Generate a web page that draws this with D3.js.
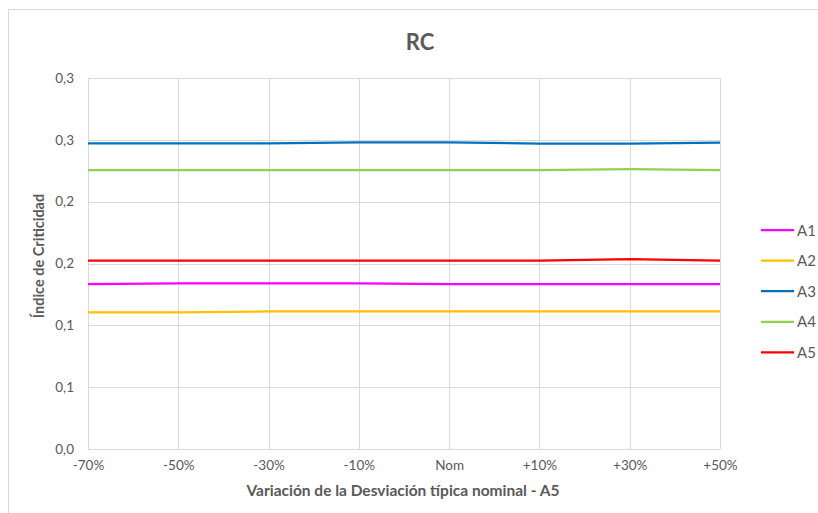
<!DOCTYPE html>
<html>
<head>
<meta charset="utf-8">
<script src="https://cdn.jsdelivr.net/npm/d3@7/dist/d3.min.js"></script>
<style>
  html, body { margin: 0; padding: 0; background: #fff; }
  svg { display: block; }
  text { font-family: Lato, "Open Sans", sans-serif; }
</style>
</head>
<body>
<svg id="chart" width="818" height="513"></svg>
<script>
// Categories on the x axis
const categories = ["-70%", "-50%", "-30%", "-10%", "Nom", "+10%", "+30%", "+50%"];

// Series values (Índice de Criticidad)
const seriesNames = ["A1", "A2", "A3", "A4", "A5"];
const A1 = [0.1333, 0.1340, 0.1340, 0.1340, 0.1334, 0.1333, 0.1333, 0.1333];
const A2 = [0.1104, 0.1104, 0.1112, 0.1112, 0.1112, 0.1112, 0.1112, 0.1112];
const A3 = [0.2472, 0.2472, 0.2472, 0.2480, 0.2480, 0.2469, 0.2469, 0.2477];
const A4 = [0.2256, 0.2256, 0.2256, 0.2256, 0.2256, 0.2256, 0.2263, 0.2256];
const A5 = [0.1524, 0.1524, 0.1524, 0.1524, 0.1524, 0.1524, 0.1536, 0.1524];
const seriesValues = [A1, A2, A3, A4, A5];
const seriesColors = ["#FF00FF", "#FFC000", "#0070C0", "#92D050", "#FF0000"];

// Y axis ticks
const yTicks = [0, 0.05, 0.10, 0.15, 0.20, 0.25, 0.30];

const svg = d3.select("#chart");

// Outer chart frame
svg.append("rect")
  .attr("x", 8.5).attr("y", 9.5)
  .attr("width", 830).attr("height", 520)
  .attr("fill", "#fff").attr("stroke", "#D9D9D9").attr("stroke-width", 1);

const x = d3.scalePoint().domain(categories).range([88, 720]).padding(0);
const y = d3.scaleLinear().domain([0, 0.3]).range([449, 78]);

// One-decimal labels with comma separator, rounding halves up
const fmt = v => (Math.round(v * 10 + 1e-9) / 10).toFixed(1).replace(".", ",");

// Horizontal gridlines
svg.append("g")
  .selectAll("line")
  .data(yTicks)
  .join("line")
  .attr("x1", x.range()[0]).attr("x2", x.range()[1])
  .attr("y1", d => Math.round(y(d)) + 0.5).attr("y2", d => Math.round(y(d)) + 0.5)
  .attr("stroke", "#D9D9D9").attr("stroke-width", 1);

// Vertical gridlines
svg.append("g")
  .selectAll("line")
  .data(categories)
  .join("line")
  .attr("x1", d => Math.round(x(d)) + 0.5).attr("x2", d => Math.round(x(d)) + 0.5)
  .attr("y1", y(0.3)).attr("y2", y(0))
  .attr("stroke", "#D9D9D9").attr("stroke-width", 1);

// Y axis labels
const yAxis = d3.axisLeft(y).tickValues(yTicks).tickFormat(fmt).tickSize(0).tickPadding(0);
const gy = svg.append("g").attr("transform", "translate(74,0)").call(yAxis);
gy.select(".domain").remove();
gy.selectAll("text").attr("fill", "#595959").style("font-size", "13.5px")
  .style("font-family", "Lato, 'Open Sans', sans-serif");

// X axis labels
const xAxis = d3.axisBottom(x).tickSize(0).tickPadding(0);
const gx = svg.append("g").attr("transform", "translate(0,460)").call(xAxis);
gx.select(".domain").remove();
gx.selectAll("text").attr("fill", "#595959").style("font-size", "13.5px")
  .style("font-family", "Lato, 'Open Sans', sans-serif");

// Series lines
const line = d3.line().x((d, i) => x(categories[i])).y(d => y(d));
svg.append("g")
  .selectAll("path")
  .data(seriesValues)
  .join("path")
  .attr("d", d => line(d))
  .attr("fill", "none")
  .attr("stroke", (d, i) => seriesColors[i])
  .attr("stroke-width", 2.25)
  .attr("stroke-linejoin", "round");

// Title
svg.append("text")
  .attr("x", 420).attr("y", 50)
  .attr("text-anchor", "middle")
  .attr("fill", "#595959")
  .style("font-size", "22px").style("font-weight", "bold")
  .text("RC");

// Axis titles
svg.append("text")
  .attr("x", 403).attr("y", 496)
  .attr("text-anchor", "middle")
  .attr("fill", "#595959")
  .style("font-size", "15.5px").style("font-weight", "bold")
  .text("Variación de la Desviación típica nominal - A5");

svg.append("text")
  .attr("transform", "translate(44,256) rotate(-90)")
  .attr("text-anchor", "middle")
  .attr("fill", "#595959")
  .style("font-size", "14.5px").style("font-weight", "bold")
  .text("Índice de Criticidad");

// Legend
const legend = svg.append("g")
  .selectAll("g")
  .data(seriesNames)
  .join("g")
  .attr("transform", (d, i) => `translate(761,${230 + i * 30.6})`);
legend.append("line")
  .attr("x1", 0).attr("x2", 33)
  .attr("stroke", (d, i) => seriesColors[i]).attr("stroke-width", 2.25);
legend.append("text")
  .attr("x", 36).attr("y", 5.5)
  .attr("fill", "#595959")
  .style("font-size", "15px")
  .text(d => d);
</script>
</body>
</html>
